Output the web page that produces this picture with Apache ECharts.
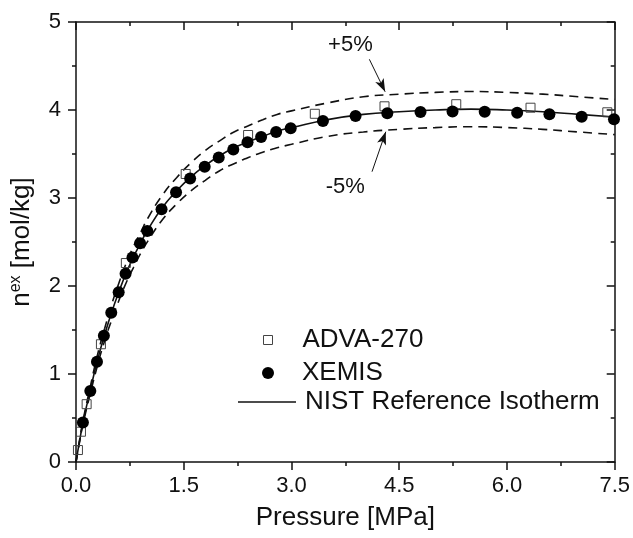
<!DOCTYPE html>
<html>
<head>
<meta charset="utf-8">
<script src="https://cdn.jsdelivr.net/npm/echarts@6/dist/echarts.min.js"></script>
<style>
  html, body { margin: 0; padding: 0; background: #fff; }
  #main { width: 633px; height: 538px; }
</style>
</head>
<body>
<div id="main"></div>
<script>
// 数据
var advaP = [0.027, 0.069, 0.148, 0.347, 0.694, 1.527, 2.396, 3.325, 4.295, 5.294, 6.328, 7.397]
var advaN = [0.136, 0.344, 0.657, 1.338, 2.261, 3.273, 3.716, 3.957, 4.042, 4.066, 4.026, 3.974]

var xemisP = [0.096, 0.199, 0.292, 0.388, 0.491, 0.594, 0.690, 0.786, 0.892, 0.992, 1.191, 1.393, 1.589, 1.792, 1.987,
  2.190, 2.388, 2.577, 2.786, 2.989, 3.438, 3.892, 4.334, 4.796, 5.242, 5.690, 6.142, 6.591, 7.040, 7.490]
var xemisN = [0.449, 0.807, 1.139, 1.434, 1.697, 1.928, 2.140, 2.324, 2.485, 2.625, 2.873, 3.066, 3.222, 3.355, 3.460,
  3.550, 3.633, 3.693, 3.750, 3.793, 3.875, 3.932, 3.963, 3.977, 3.983, 3.981, 3.968, 3.951, 3.923, 3.895]

var nistP = [0, 0.05, 0.1, 0.2, 0.3, 0.4, 0.5, 0.6, 0.7, 0.8, 0.9, 1.0, 1.2, 1.4, 1.6, 1.8, 2.0, 2.2, 2.4, 2.6, 2.8, 3.0,
  3.5, 4.0, 4.5, 5.0, 5.5, 6.0, 6.5, 7.0, 7.5]
var nistN = [0, 0.24, 0.46, 0.82, 1.16, 1.45, 1.71, 1.94, 2.15, 2.33, 2.49, 2.64, 2.89, 3.08, 3.24, 3.37, 3.48, 3.57, 3.64,
  3.70, 3.76, 3.80, 3.89, 3.95, 3.98, 4.00, 4.01, 4.00, 3.98, 3.95, 3.92]
var upperN = [0, 0.25, 0.48, 0.86, 1.22, 1.52, 1.80, 2.04, 2.26, 2.45, 2.61, 2.77, 3.03, 3.23, 3.40, 3.54, 3.65, 3.75, 3.82,
  3.89, 3.95, 3.99, 4.08, 4.15, 4.18, 4.20, 4.21, 4.20, 4.18, 4.15, 4.12]
var lowerN = [0, 0.23, 0.44, 0.78, 1.10, 1.38, 1.62, 1.84, 2.04, 2.21, 2.37, 2.51, 2.75, 2.93, 3.08, 3.20, 3.31, 3.39, 3.46,
  3.52, 3.57, 3.61, 3.70, 3.75, 3.78, 3.80, 3.81, 3.80, 3.78, 3.75, 3.72]

// 注释文字和箭头
var noteText = ['+5%', '-5%']
var noteP = [3.82, 3.75]
var noteN = [4.74, 3.125]
var arrowFrom = [[4.084, 4.576], [4.121, 3.299]]
var arrowTo = [[4.304, 4.208], [4.313, 3.753]]

function pairs(xs, ys) {
  return xs.map(function (x, i) { return [x, ys[i]] })
}

var FONT = '"Liberation Sans", Arial, sans-serif'
var INK = '#111'

var chart = echarts.init(document.getElementById('main'))

function axisBase(extra) {
  var a = {
    type: 'value',
    axisLine: { show: true, onZero: false, lineStyle: { color: INK, width: 1.5 } },
    axisTick: { show: true, length: 8, lineStyle: { color: INK, width: 1.5 } },
    minorTick: { show: true, splitNumber: 2, length: 4, lineStyle: { color: INK, width: 1.5 } },
    splitLine: { show: false },
    minorSplitLine: { show: false },
  }
  for (var k in extra) a[k] = extra[k]
  return a
}

var option = {
  animation: false,
  textStyle: { fontFamily: FONT, color: INK },
  grid: { left: 70, right: 17, top: 22, bottom: 76 },
  legend: [
    {
      data: ['ADVA-270'],
      orient: 'vertical',
      padding: 0,
      left: 263,
      top: 327,
      itemWidth: 9,
      itemHeight: 9,
      selectedMode: false,
      itemStyle: { color: 'transparent', borderColor: '#444', borderWidth: 1 },
      textStyle: { fontSize: 26, color: INK, fontFamily: FONT, padding: [0, 0, 0, 25] },
    },
    {
      data: ['XEMIS'],
      orient: 'vertical',
      padding: 0,
      left: 262,
      top: 360,
      itemWidth: 12,
      itemHeight: 12,
      selectedMode: false,
      itemStyle: { color: '#000', opacity: 1 },
      textStyle: { fontSize: 26, color: INK, fontFamily: FONT, padding: [0, 0, 0, 23] },
    },
    {
      data: [{ name: 'NIST Reference Isotherm', icon: 'rect' }],
      orient: 'vertical',
      padding: 0,
      left: 238,
      top: 389,
      itemWidth: 58,
      itemHeight: 1.6,
      selectedMode: false,
      itemStyle: { color: INK },
      textStyle: { fontSize: 26, color: INK, fontFamily: FONT, padding: [0, 0, 0, 4] },
    },
  ],
  xAxis: [
    axisBase({
      min: 0, max: 7.5, interval: 1.5, position: 'bottom',
      name: 'Pressure [MPa]', nameLocation: 'middle', nameGap: 43,
      nameTextStyle: { fontSize: 26, color: INK, fontFamily: FONT },
      axisLabel: {
        fontSize: 22, color: INK, margin: 13, fontFamily: FONT,
        formatter: function (v) { return v.toFixed(1) },
      },
    }),
    axisBase({
      min: 0, max: 7.5, interval: 1.5, position: 'top',
      axisTick: { show: true, inside: true, length: 8, lineStyle: { color: INK, width: 1.5 } },
      axisLabel: { show: false },
    }),
  ],
  yAxis: [
    axisBase({
      min: 0, max: 5, interval: 1, position: 'left',
      name: '{a|n}{sup|ex}{a| [mol/kg]}', nameLocation: 'middle', nameGap: 40, nameRotate: 90,
      nameTextStyle: {
        rich: {
          a: { fontSize: 26, color: INK, fontFamily: FONT },
          sup: { fontSize: 16, color: INK, fontFamily: FONT, verticalAlign: 'bottom', padding: [0, 0, 12, 0] },
        },
      },
      axisLabel: { fontSize: 22, color: INK, margin: 15, fontFamily: FONT },
    }),
    axisBase({
      min: 0, max: 5, interval: 1, position: 'right',
      axisTick: { show: true, inside: true, length: 8, lineStyle: { color: INK, width: 1.5 } },
      axisLabel: { show: false },
    }),
  ],
  series: [
    {
      name: '+5%',
      type: 'line',
      smooth: true,
      symbol: 'none',
      data: pairs(nistP, upperN),
      lineStyle: { color: INK, width: 1.6, type: [9, 6] },
      z: 2,
    },
    {
      name: '-5%',
      type: 'line',
      smooth: true,
      symbol: 'none',
      data: pairs(nistP, lowerN),
      lineStyle: { color: INK, width: 1.6, type: [9, 6] },
      z: 2,
    },
    {
      name: 'NIST Reference Isotherm',
      type: 'line',
      smooth: true,
      symbol: 'none',
      data: pairs(nistP, nistN),
      lineStyle: { color: INK, width: 1.6 },
      itemStyle: { color: INK },
      z: 3,
    },
    {
      name: 'ADVA-270',
      type: 'scatter',
      symbol: 'rect',
      symbolSize: 9,
      data: pairs(advaP, advaN),
      itemStyle: { color: 'transparent', borderColor: '#444', borderWidth: 1, opacity: 1 },
      z: 4,
    },
    {
      name: 'XEMIS',
      type: 'scatter',
      symbol: 'circle',
      symbolSize: 12,
      data: pairs(xemisP, xemisN),
      itemStyle: { color: '#000', opacity: 1 },
      z: 5,
    },
    {
      name: 'notes',
      type: 'scatter',
      symbolSize: 0,
      silent: true,
      data: noteText.map(function (t, i) { return [noteP[i], noteN[i], t] }),
      itemStyle: { opacity: 1 },
      label: {
        show: true,
        position: 'inside',
        fontSize: 22,
        color: INK,
        fontFamily: FONT,
        formatter: function (p) { return p.data[2] },
      },
      markLine: {
        silent: true,
        symbol: ['none', 'arrow'],
        symbolSize: [7, 13],
        label: { show: false },
        lineStyle: { color: INK, width: 1, type: 'solid' },
        data: arrowFrom.map(function (a, i) {
          return [{ coord: a }, { coord: arrowTo[i] }]
        }),
      },
      z: 6,
    },
  ],
}

chart.setOption(option)

window.addEventListener('resize', function () {
  chart.resize()
})
</script>
</body>
</html>
